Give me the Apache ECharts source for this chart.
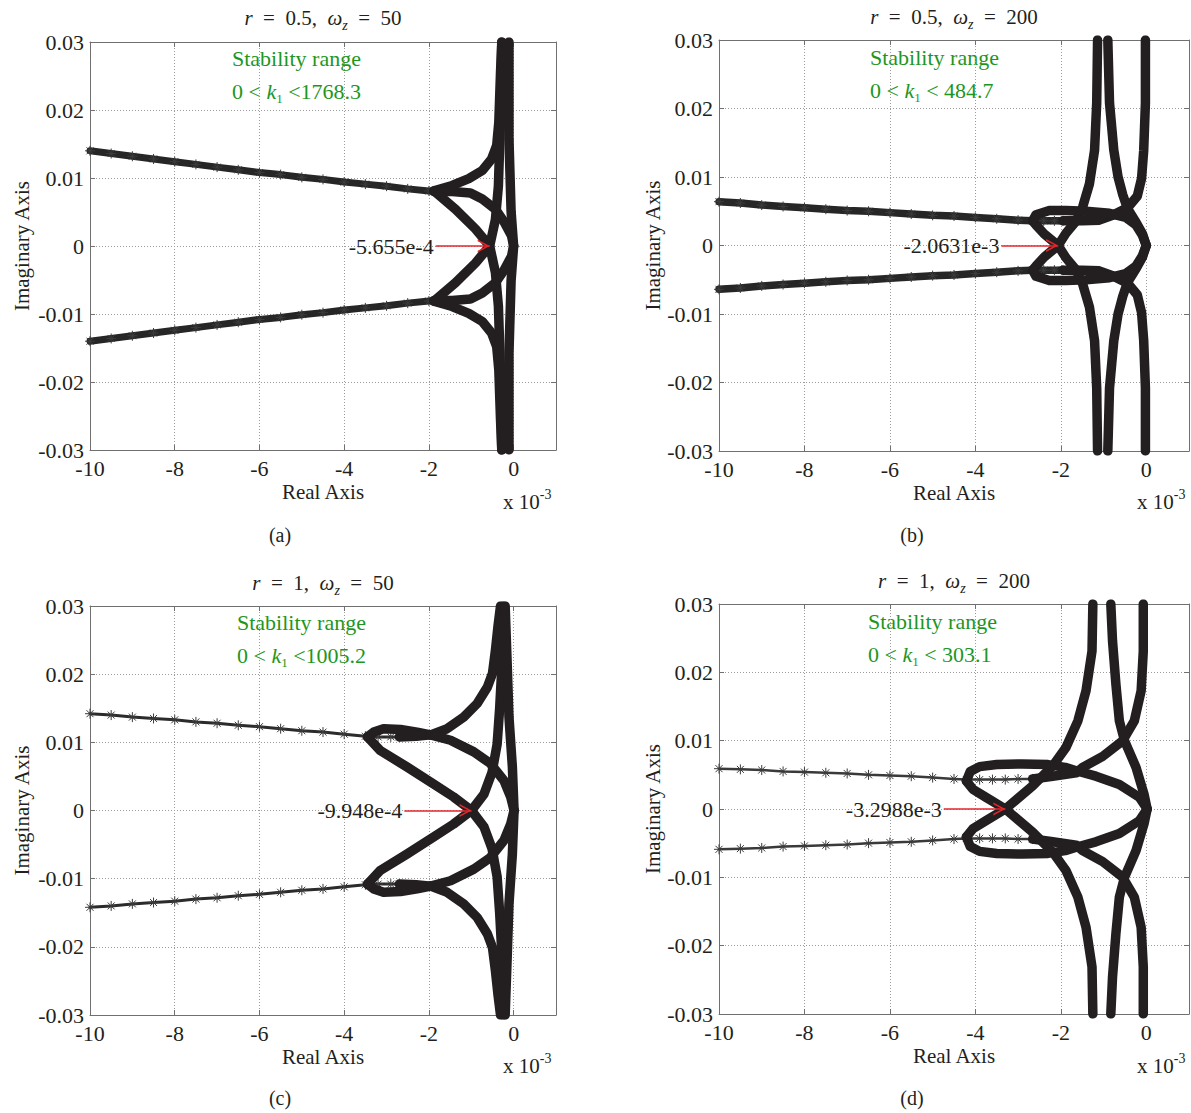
<!DOCTYPE html>
<html><head><meta charset="utf-8">
<script src="https://cdn.jsdelivr.net/npm/echarts@6.0.0/dist/echarts.min.js"></script>
<style>html,body{margin:0;padding:0;background:#fff}#c{width:1191px;height:1113px}</style>
</head><body><div id="c"></div>
<script>
// ---------- tick labels ----------
const xTickValues = [-10, -8, -6, -4, -2, 0];
const xTickLabels = ['-10', '-8', '-6', '-4', '-2', '0'];
const yTickValues = [-0.03, -0.02, -0.01, 0, 0.01, 0.02, 0.03];
const yTickLabels = ['-0.03', '-0.02', '-0.01', '0', '0.01', '0.02', '0.03'];

// ---------- panel texts ----------
const panelR = ['0.5', '0.5', '1', '1'];
const panelWz = ['50', '200', '50', '200'];
const kRange = [' <1768.3', ' < 484.7', ' <1005.2', ' < 303.1'];
const panelTags = ['(a)', '(b)', '(c)', '(d)'];
const annotText = ['-5.655e-4', '-2.0631e-3', '-9.948e-4', '-3.2988e-3'];
const annotTip = [-0.5655, -2.0631, -0.9948, -3.2988];
const annotStart = [-1.84, -3.39, -2.58, -4.74];

// ---------- panel (a) r=0.5, wz=50  (x in 1e-3) ----------
const A_armU = [[-10,0.0140],[-9.5,0.0136],[-9,0.0132],[-8.5,0.0128],[-8,0.0124],[-7.5,0.0120],[-7,0.0116],[-6.5,0.0112],[-6,0.0108],[-5.5,0.0105],[-5,0.0101],[-4.5,0.0098],[-4,0.0094],[-3.5,0.0091],[-3,0.0088],[-2.5,0.0084],[-2,0.0081],[-1.88,0.0081]];
const A_armL = [[-10,-0.0140],[-9.5,-0.0136],[-9,-0.0132],[-8.5,-0.0128],[-8,-0.0124],[-7.5,-0.0120],[-7,-0.0116],[-6.5,-0.0112],[-6,-0.0108],[-5.5,-0.0105],[-5,-0.0101],[-4.5,-0.0098],[-4,-0.0094],[-3.5,-0.0091],[-3,-0.0088],[-2.5,-0.0084],[-2,-0.0081],[-1.88,-0.0081]];
const A_arcU = [[-1.88,0.0081],[-1.45,0.0089],[-1.06,0.0099],[-0.74,0.0111],[-0.52,0.0128],[-0.40,0.0148],[-0.35,0.0182],[-0.31,0.0255],[-0.28,0.0300]];
const A_arcL = [[-1.88,-0.0081],[-1.45,-0.0089],[-1.06,-0.0099],[-0.74,-0.0111],[-0.52,-0.0128],[-0.40,-0.0148],[-0.35,-0.0182],[-0.31,-0.0255],[-0.28,-0.0300]];
const A_cuspU = [[-1.88,0.0080],[-1.45,0.0080],[-1.02,0.0078],[-0.74,0.0069],[-0.43,0.0054],[-0.22,0.0035],[-0.05,0.0015],[0.0,0]];
const A_cuspL = [[-1.88,-0.0080],[-1.45,-0.0080],[-1.02,-0.0078],[-0.74,-0.0069],[-0.43,-0.0054],[-0.22,-0.0035],[-0.05,-0.0015],[0.0,0]];
const A_diag1 = [[-1.88,0.0081],[-1.37,0.0054],[-0.90,0.0025],[-0.5655,0],[-0.43,-0.0039],[-0.36,-0.0088],[-0.31,-0.0186],[-0.28,-0.0300]];
const A_diag2 = [[-1.88,-0.0081],[-1.37,-0.0054],[-0.90,-0.0025],[-0.5655,0],[-0.43,0.0039],[-0.36,0.0088],[-0.31,0.0186],[-0.28,0.0300]];
const A_lens = [[-0.11,0.0300],[-0.11,0.0157],[-0.06,0.0051],[0.0,0],[-0.06,-0.0051],[-0.11,-0.0157],[-0.11,-0.0300]];

// ---------- panel (b) r=0.5, wz=200 ----------
const B_armU = [[-10,0.0064],[-9.5,0.0062],[-9,0.0059],[-8.5,0.0057],[-8,0.0055],[-7.5,0.0053],[-7,0.0051],[-6.5,0.0050],[-6,0.0048],[-5.5,0.0046],[-5,0.0044],[-4.5,0.0043],[-4,0.0041],[-3.5,0.0039],[-3,0.0037],[-2.66,0.0036],[-2.4,0.0036],[-2.15,0.0036],[-1.95,0.0036]];
const B_armL = [[-10,-0.0064],[-9.5,-0.0062],[-9,-0.0059],[-8.5,-0.0057],[-8,-0.0055],[-7.5,-0.0053],[-7,-0.0051],[-6.5,-0.0050],[-6,-0.0048],[-5.5,-0.0046],[-5,-0.0044],[-4.5,-0.0043],[-4,-0.0041],[-3.5,-0.0039],[-3,-0.0037],[-2.66,-0.0036],[-2.4,-0.0036],[-2.15,-0.0036],[-1.95,-0.0036]];
const B_PU = [[-1.95,0.0036],[-1.5,0.0036],[-1.10,0.0037],[-0.79,0.0044],[-0.44,0.0055],[-0.21,0.0072],[-0.11,0.0098],[-0.06,0.0139],[-0.02,0.0208],[-0.02,0.0300]];
const B_PL = [[-1.95,-0.0036],[-1.5,-0.0036],[-1.10,-0.0037],[-0.79,-0.0044],[-0.44,-0.0055],[-0.21,-0.0072],[-0.11,-0.0098],[-0.06,-0.0139],[-0.02,-0.0208],[-0.02,-0.0300]];
const B_Q = [[-0.90,0.0300],[-0.86,0.0208],[-0.76,0.0139],[-0.66,0.0100],[-0.55,0.0074],[-0.44,0.0054],[-0.24,0.0034],[-0.09,0.0017],[0.0,0],[-0.09,-0.0017],[-0.24,-0.0034],[-0.44,-0.0054],[-0.55,-0.0074],[-0.66,-0.0100],[-0.76,-0.0139],[-0.86,-0.0208],[-0.90,-0.0300]];
const B_R1 = [[-1.14,0.0300],[-1.16,0.0208],[-1.21,0.0139],[-1.33,0.0090],[-1.49,0.0056],[-1.64,0.0036],[-1.88,0.0018],[-2.0631,0],[-2.39,-0.0017],[-2.58,-0.0030],[-2.66,-0.0036]];
const B_R2 = [[-1.14,-0.0300],[-1.16,-0.0208],[-1.21,-0.0139],[-1.33,-0.0090],[-1.49,-0.0056],[-1.64,-0.0036],[-1.88,-0.0018],[-2.0631,0],[-2.39,0.0017],[-2.58,0.0030],[-2.66,0.0036]];
const B_loopU = [[-2.66,0.0036],[-2.58,0.0045],[-2.27,0.0051],[-1.88,0.0051],[-1.41,0.0050],[-0.86,0.0047],[-0.48,0.0041],[-0.24,0.0030],[-0.09,0.0015],[0.0,0]];
const B_loopL = [[-2.66,-0.0036],[-2.58,-0.0045],[-2.27,-0.0051],[-1.88,-0.0051],[-1.41,-0.0050],[-0.86,-0.0047],[-0.48,-0.0041],[-0.24,-0.0030],[-0.09,-0.0015],[0.0,0]];

// ---------- panel (c) r=1, wz=50 ----------
const C_armU = [[-10,0.0142],[-9.5,0.0140],[-9,0.0137],[-8.5,0.0135],[-8,0.0133],[-7.5,0.0130],[-7,0.0128],[-6.5,0.0125],[-6,0.0123],[-5.5,0.0120],[-5,0.0117],[-4.5,0.0115],[-4,0.0112],[-3.5,0.0109],[-3.2,0.0108],[-2.9,0.0108],[-2.7,0.0108]];
const C_armL = [[-10,-0.0142],[-9.5,-0.0140],[-9,-0.0137],[-8.5,-0.0135],[-8,-0.0133],[-7.5,-0.0130],[-7,-0.0128],[-6.5,-0.0125],[-6,-0.0123],[-5.5,-0.0120],[-5,-0.0117],[-4.5,-0.0115],[-4,-0.0112],[-3.5,-0.0109],[-3.2,-0.0108],[-2.9,-0.0108],[-2.7,-0.0108]];
const C_innerU = [[-2.7,0.0108],[-2.3,0.0109],[-1.96,0.0111]];
const C_innerL = [[-2.7,-0.0108],[-2.3,-0.0109],[-1.96,-0.0111]];
const C_edgeU = [[-3.45,0.0108],[-3.3,0.0115],[-3.07,0.0120],[-2.67,0.0119],[-2.28,0.0115],[-1.96,0.0111]];
const C_edgeL = [[-3.45,-0.0108],[-3.3,-0.0115],[-3.07,-0.0120],[-2.67,-0.0119],[-2.28,-0.0115],[-1.96,-0.0111]];
const C_arcU = [[-1.96,0.0111],[-1.57,0.0120],[-1.18,0.0137],[-0.86,0.0157],[-0.62,0.0181],[-0.50,0.0201],[-0.43,0.0235],[-0.37,0.0270],[-0.31,0.0300]];
const C_arcL = [[-1.96,-0.0111],[-1.57,-0.0120],[-1.18,-0.0137],[-0.86,-0.0157],[-0.62,-0.0181],[-0.50,-0.0201],[-0.43,-0.0235],[-0.37,-0.0270],[-0.31,-0.0300]];
const C_cuspU = [[-1.96,0.0111],[-1.49,0.0103],[-0.94,0.0086],[-0.55,0.0069],[-0.23,0.0044],[-0.07,0.0020],[0.01,0]];
const C_cuspL = [[-1.96,-0.0111],[-1.49,-0.0103],[-0.94,-0.0086],[-0.55,-0.0069],[-0.23,-0.0044],[-0.07,-0.0020],[0.01,0]];
const C_diag1 = [[-3.45,0.0108],[-3.15,0.0088],[-2.52,0.0064],[-1.89,0.0039],[-1.42,0.0020],[-0.9948,0],[-0.70,-0.0024],[-0.51,-0.0056],[-0.39,-0.0097],[-0.33,-0.0150],[-0.27,-0.0220],[-0.24,-0.0300]];
const C_diag2 = [[-3.45,-0.0108],[-3.15,-0.0088],[-2.52,-0.0064],[-1.89,-0.0039],[-1.42,-0.0020],[-0.9948,0],[-0.70,0.0024],[-0.51,0.0056],[-0.39,0.0097],[-0.33,0.0150],[-0.27,0.0220],[-0.24,0.0300]];
const C_lens = [[-0.20,0.0300],[-0.15,0.0211],[-0.11,0.0137],[-0.03,0.0064],[0.01,0],[-0.03,-0.0064],[-0.11,-0.0137],[-0.15,-0.0211],[-0.20,-0.0300]];

// ---------- panel (d) r=1, wz=200 ----------
const D_armU = [[-10,0.0059],[-9.5,0.0058],[-9,0.0057],[-8.5,0.0055],[-8,0.0054],[-7.5,0.0053],[-7,0.0052],[-6.5,0.0050],[-6,0.0049],[-5.5,0.0048],[-5,0.0046],[-4.5,0.0044],[-4.21,0.0043],[-3.9,0.0043],[-3.6,0.0043],[-3.3,0.0043],[-3.0,0.0044],[-2.66,0.0044]];
const D_armL = [[-10,-0.0059],[-9.5,-0.0058],[-9,-0.0057],[-8.5,-0.0055],[-8,-0.0054],[-7.5,-0.0053],[-7,-0.0052],[-6.5,-0.0050],[-6,-0.0049],[-5.5,-0.0048],[-5,-0.0046],[-4.5,-0.0044],[-4.21,-0.0043],[-3.9,-0.0043],[-3.6,-0.0043],[-3.3,-0.0043],[-3.0,-0.0044],[-2.66,-0.0044]];
const D_PU = [[-2.66,0.0044],[-2.19,0.0048],[-1.64,0.0053],[-1.49,0.0061],[-1.02,0.0077],[-0.55,0.0100],[-0.28,0.0129],[-0.12,0.0173],[-0.07,0.0231],[-0.07,0.0300]];
const D_PL = [[-2.66,-0.0044],[-2.19,-0.0048],[-1.64,-0.0053],[-1.49,-0.0061],[-1.02,-0.0077],[-0.55,-0.0100],[-0.28,-0.0129],[-0.12,-0.0173],[-0.07,-0.0231],[-0.07,-0.0300]];
const D_Q = [[-0.83,0.0300],[-0.79,0.0246],[-0.71,0.0182],[-0.63,0.0129],[-0.51,0.0100],[-0.24,0.0061],[-0.05,0.0021],[0.02,0],[-0.05,-0.0021],[-0.24,-0.0061],[-0.51,-0.0100],[-0.63,-0.0129],[-0.71,-0.0182],[-0.79,-0.0246],[-0.83,-0.0300]];
const D_R1 = [[-1.25,0.0300],[-1.27,0.0231],[-1.41,0.0173],[-1.60,0.0129],[-1.88,0.0090],[-2.19,0.0063],[-2.66,0.0034],[-3.2988,0],[-3.75,-0.0017],[-4.06,-0.0029],[-4.21,-0.0041]];
const D_R2 = [[-1.25,-0.0300],[-1.27,-0.0231],[-1.41,-0.0173],[-1.60,-0.0129],[-1.88,-0.0090],[-2.19,-0.0063],[-2.66,-0.0034],[-3.2988,0],[-3.75,0.0017],[-4.06,0.0029],[-4.21,0.0041]];
const D_loopU = [[-4.21,0.0041],[-4.12,0.0055],[-3.9,0.0062],[-3.5,0.0065],[-2.9,0.0066],[-2.3,0.0065],[-1.9,0.0061],[-1.64,0.0056],[-1.18,0.0048],[-0.63,0.0036],[-0.16,0.0017],[0.02,0]];
const D_loopL = [[-4.21,-0.0041],[-4.12,-0.0055],[-3.9,-0.0062],[-3.5,-0.0065],[-2.9,-0.0066],[-2.3,-0.0065],[-1.9,-0.0061],[-1.64,-0.0056],[-1.18,-0.0048],[-0.63,-0.0036],[-0.16,-0.0017],[0.02,0]];

// ---------- styles / layout ----------
const SERIF = 'Liberation Serif';
const INK = '#231f20';
const BOX = '#707070';
const GRIDC = '#9c9c9c';
const GREEN = '#1e961e';
const RED = '#e5262b';
const ASTER = 'path://M5,0L5,10M0,5L10,5M1.5,1.5L8.5,8.5M1.5,8.5L8.5,1.5';
const ARROW = 'path://M5,0M5,10L10,20L8.7,20L5,12.6L1.3,20L0,20Z';
const CURVE_W = 9.5;

const grids = [
  {left: 90, top: 42, width: 466, height: 408},
  {left: 719, top: 40, width: 470, height: 411},
  {left: 90, top: 606, width: 466, height: 409},
  {left: 719, top: 604, width: 470, height: 410}
];
const titlePos = [[323, 18], [954, 17], [323, 583], [954, 581]];
const greenPos = [[232, 58], [870, 57], [237, 622], [868, 621]];
const tagPos = [[280, 535], [912, 535], [280, 1098], [912, 1098]];
const expPos = [[503, 502], [1137, 502], [503, 1066], [1137, 1066]];
const armWidth = [7, 7.5, 3, 2.5];
const armColor = ['#262626', '#262626', '#2b2b2b', '#3a3a3a'];

const panelCurves = [
  [A_arcU, A_arcL, A_cuspU, A_cuspL, A_diag1, A_diag2, A_lens],
  [B_PU, B_PL, B_Q, B_R1, B_R2, B_loopU, B_loopL],
  [C_innerU, C_innerL, C_edgeU, C_edgeL, C_arcU, C_arcL, C_cuspU, C_cuspL, C_diag1, C_diag2, C_lens],
  [D_PU, D_PL, D_Q, D_R1, D_R2, D_loopU, D_loopL]
];
const panelArms = [[A_armU, A_armL], [B_armU, B_armL], [C_armU, C_armL], [D_armU, D_armL]];

function pick(vals, labels, v) {
  for (let i = 0; i < vals.length; i++) if (Math.abs(vals[i] - v) < 1e-9) return labels[i];
  return '';
}
const labelFont = {color: INK, fontFamily: SERIF, fontSize: 22};
const nameFont = {color: INK, fontFamily: SERIF, fontSize: 21};

const xAxes = [], yAxes = [], series = [], gridOpts = [];
grids.forEach((g) => {
  gridOpts.push(Object.assign({containLabel: false, outerBoundsMode: 'none'}, g));
});
grids.forEach((g, gi) => {
  xAxes.push({type: 'value', gridIndex: gi, min: -10, max: 1, interval: 2, position: 'bottom',
    axisLine: {show: true, onZero: false, lineStyle: {color: BOX, width: 1}},
    axisTick: {show: true, inside: true, length: 5, lineStyle: {color: BOX}},
    axisLabel: Object.assign({show: true, margin: 7, showMaxLabel: false, showMinLabel: true,
      formatter: v => pick(xTickValues, xTickLabels, v)}, labelFont),
    splitLine: {show: true, lineStyle: {color: GRIDC, width: 1, type: [1, 2]}},
    name: 'Real Axis', nameLocation: 'middle', nameGap: 31, nameTextStyle: nameFont});
  yAxes.push({type: 'value', gridIndex: gi, min: -0.03, max: 0.03, interval: 0.01, position: 'left',
    axisLine: {show: true, onZero: false, lineStyle: {color: BOX, width: 1}},
    axisTick: {show: true, inside: true, length: 5, lineStyle: {color: BOX}},
    axisLabel: Object.assign({show: true, margin: 6, showMaxLabel: true, showMinLabel: true,
      formatter: v => pick(yTickValues, yTickLabels, v)}, labelFont),
    splitLine: {show: true, lineStyle: {color: GRIDC, width: 1, type: [1, 2]}},
    name: 'Imaginary Axis', nameLocation: 'middle', nameGap: gi % 2 === 0 ? 58 : 56, nameTextStyle: nameFont});
});
grids.forEach((g, gi) => {
  xAxes.push({type: 'value', gridIndex: gi, min: -10, max: 1, interval: 2, position: 'top',
    axisLine: {show: true, onZero: false, lineStyle: {color: BOX, width: 1}},
    axisTick: {show: true, inside: true, length: 5, lineStyle: {color: BOX}},
    axisLabel: {show: false}, splitLine: {show: false}});
  yAxes.push({type: 'value', gridIndex: gi, min: -0.03, max: 0.03, interval: 0.01, position: 'right',
    axisLine: {show: true, onZero: false, lineStyle: {color: BOX, width: 1}},
    axisTick: {show: true, inside: true, length: 5, lineStyle: {color: BOX}},
    axisLabel: {show: false}, splitLine: {show: false}});
});

grids.forEach((g, gi) => {
  panelArms[gi].forEach(arm => {
    series.push({type: 'line', xAxisIndex: gi, yAxisIndex: gi, data: arm, symbol: ASTER, symbolSize: 10,
      showSymbol: true, showAllSymbol: true, silent: true, animation: false, z: 2,
      lineStyle: {color: armColor[gi], width: armWidth[gi], cap: 'round', join: 'round'},
      itemStyle: {color: '#333', borderColor: '#3c3c3c', borderWidth: 1}});
  });
  panelCurves[gi].forEach(c => {
    series.push({type: 'line', xAxisIndex: gi, yAxisIndex: gi, data: c, symbol: 'none', showSymbol: false,
      silent: true, animation: false, z: 3,
      lineStyle: {color: INK, width: CURVE_W, cap: 'round', join: 'round'}});
  });
  series.push({type: 'line', xAxisIndex: gi, yAxisIndex: gi, data: [], silent: true, animation: false, z: 6,
    markLine: {silent: true, animation: false, symbol: ['none', ARROW], symbolSize: [13, 24], precision: 6,
      lineStyle: {color: RED, width: 1.5, type: 'solid'},
      label: {show: true, position: 'start', distance: 2, formatter: annotText[gi], color: INK, fontFamily: SERIF, fontSize: 22},
      emphasis: {disabled: true},
      data: [[{coord: [annotStart[gi], 0]}, {coord: [annotTip[gi], 0]}]]}});
});

// ---------- text graphics ----------
const richBase = {
  n: {fontFamily: SERIF, fontSize: 21, fill: INK, lineHeight: 28, verticalAlign: 'middle'},
  i: {fontFamily: SERIF, fontSize: 21, fill: INK, fontStyle: 'italic', lineHeight: 28, verticalAlign: 'middle'},
  s: {fontFamily: SERIF, fontSize: 14, fill: INK, fontStyle: 'italic', lineHeight: 14, verticalAlign: 'bottom'}
};
const richGreen = {
  n: {fontFamily: SERIF, fontSize: 22, fill: GREEN, lineHeight: 28, verticalAlign: 'middle'},
  i: {fontFamily: SERIF, fontSize: 22, fill: GREEN, fontStyle: 'italic', lineHeight: 28, verticalAlign: 'middle'},
  s: {fontFamily: SERIF, fontSize: 13, fill: GREEN, lineHeight: 13, verticalAlign: 'bottom'}
};
const richExp = {
  n: {fontFamily: SERIF, fontSize: 21, fill: INK, lineHeight: 30, verticalAlign: 'middle'},
  p: {fontFamily: SERIF, fontSize: 14, fill: INK, lineHeight: 14, verticalAlign: 'top'}
};
const elements = [];
grids.forEach((g, gi) => {
  elements.push({type: 'text', x: titlePos[gi][0], y: titlePos[gi][1], silent: true,
    style: {text: '{i|r}{n|  =  ' + panelR[gi] + ',  }{i|ω}{s|z}{n|  =  ' + panelWz[gi] + '}', align: 'center', verticalAlign: 'middle', rich: richBase, fill: INK}});
  elements.push({type: 'text', x: greenPos[gi][0], y: greenPos[gi][1], silent: true,
    style: {text: '{n|Stability range}', align: 'left', verticalAlign: 'middle', rich: richGreen, fill: GREEN}});
  elements.push({type: 'text', x: greenPos[gi][0], y: greenPos[gi][1] + 33, silent: true,
    style: {text: '{n|0 < }{i|k}{s|1}{n|' + kRange[gi] + '}', align: 'left', verticalAlign: 'middle', rich: richGreen, fill: GREEN}});
  elements.push({type: 'text', x: tagPos[gi][0], y: tagPos[gi][1], silent: true,
    style: {text: panelTags[gi], align: 'center', verticalAlign: 'middle', fontFamily: SERIF, fontSize: 20, fill: INK}});
  elements.push({type: 'text', x: expPos[gi][0], y: expPos[gi][1], silent: true,
    style: {text: '{n|x 10}{p|-3}', align: 'left', verticalAlign: 'middle', rich: richExp, fill: INK}});
});

const chart = echarts.init(document.getElementById('c'), null, {renderer: 'svg'});
chart.setOption({
  animation: false,
  backgroundColor: '#ffffff',
  textStyle: {fontFamily: SERIF},
  grid: gridOpts,
  xAxis: xAxes,
  yAxis: yAxes,
  series: series,
  graphic: {elements: elements}
});
</script>
</body></html>
